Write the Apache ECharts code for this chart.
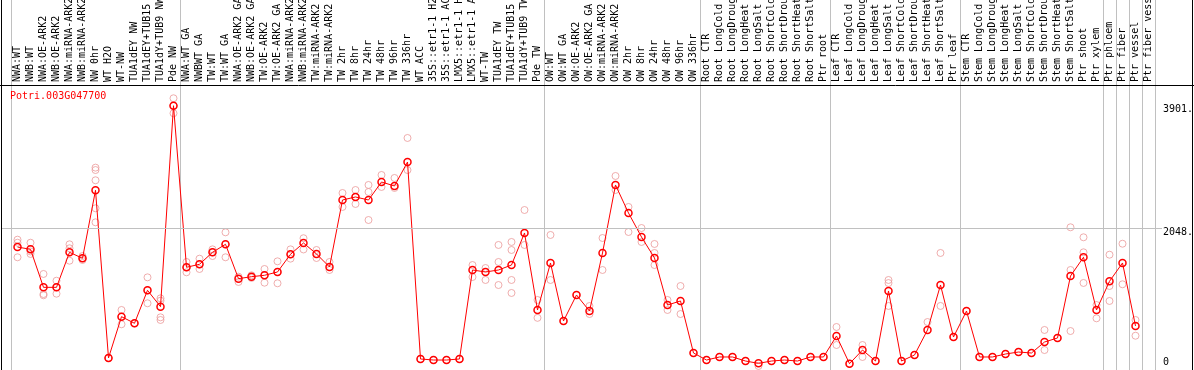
<!DOCTYPE html>
<html><head><meta charset="utf-8">
<script src="https://cdn.jsdelivr.net/npm/echarts@6/dist/echarts.min.js"></script>
<style>html,body{margin:0;padding:0;background:#fff}#c{width:1194px;height:370px}</style>
</head><body><div id="c"></div>
<script>
const geneName = 'Potri.003G047700';
const categories = [
 'NWA:WT','NWB:WT','NWA:OE-ARK2','NWB:OE-ARK2','NWA:miRNA-ARK2','NWB:miRNA-ARK2','NW 0hr','WT H2O','WT-NW','TUA1dEY NW',
 'TUA1dEY+TUB15 NW','TUA1dY+TUB9 NW','Pde NW','NWA:WT GA','NWBWT GA','TW:WT','TW:WT GA','NWA:OE-ARK2 GA','NWB:OE-ARK2 GA','TW:OE-ARK2',
 'TW:OE-ARK2 GA','NWA:miRNA-ARK2 GA','NWB:miRNA-ARK2 GA','TW:miRNA-ARK2','TW:miRNA-ARK2 GA','TW 2hr','TW 8hr','TW 24hr','TW 48hr','TW 96hr',
 'TW 336hr','WT ACC','35S::etr1-1 H2O','35S::etr1-1 ACC','LMX5::etr1-1 H2O','LMX5::etr1-1 ACC','WT-TW','TUA1dEY TW','TUA1dEY+TUB15 TW','TUA1dY+TUB9 TW',
 'Pde TW','OW:WT','OW:WT GA','OW:OE-ARK2','OW:OE-ARK2 GA','OW:miRNA-ARK2','OW:miRNA-ARK2 GA','OW 2hr','OW 8hr','OW 24hr',
 'OW 48hr','OW 96hr','OW 336hr','Root CTR','Root LongCold','Root LongDrought','Root LongHeat','Root LongSalt','Root ShortCold','Root ShortDrought',
 'Root ShortHeat','Root ShortSalt','Ptr root','Leaf CTR','Leaf LongCold','Leaf LongDrought','Leaf LongHeat','Leaf LongSalt','Leaf ShortCold','Leaf ShortDrought',
 'Leaf ShortHeat','Leaf ShortSalt','Ptr leaf','Stem CTR','Stem LongCold','Stem LongDrought','Stem LongHeat','Stem LongSalt','Stem ShortCold','Stem ShortDrought',
 'Stem ShortHeat','Stem ShortSalt','Ptr shoot','Ptr xylem','Ptr phloem','Ptr fiber','Ptr vessel','Ptr fiber vessel'
];
const means = [
 1767,1732,1158,1158,1687,1597,2624,91,715,615,
 1113,866,3901,1461,1506,1687,1808,1289,1319,1340,
 1390,1657,1828,1662,1465,2477,2523,2477,2749,2689,
 3051,76,60,60,76,1420,1390,1420,1495,1979,
 816,1526,650,1042,800,1677,2704,2281,1918,1601,
 891,952,166,60,106,106,45,10,45,60,
 45,106,106,423,5,211,45,1103,45,136,
 514,1193,408,800,106,106,151,181,166,332,
 393,1329,1612,816,1249,1526,574
];
const replicates = [
 [1878,1832,1612],[1832,1700,1662],[1360,1057,1038],[1258,1158,1062],[1808,1748,1560],[1631,1597,1571],[2966,2930,2775,2352,2140],[91,91],[816,715,600],[615,615],
 [1309,1113,917],[992,956,705,665],[4014,3901,3787],[1541,1461,1385],[1591,1506,1435],[1732,1687,1631],[1989,1808,1612],[1319,1239],[1340,1300],[1435,1340,1228],
 [1551,1390,1219],[1732,1657,1591],[1900,1730],[1722,1601],[1541,1420],[2583,2372],[2628,2523,2417],[2704,2598,2175],[2855,2674],[2810,2659],
 [3414,2930],[76],[60],[60],[76],[1495,1314],[1450,1269],[1798,1541,1193],[1843,1722,1269,1073],[2326,1798],
 [967,697],[1949,1269],[650],[1042],[876,755],[1903,1420],[2840,2628],[2372,1994],[2054,1843],[1813,1677,1495],
 [967,816],[1178,755],[166],[60],[106],[106],[45],[-30],[45],[60],
 [45],[106],[106],[559,287],[5],[287,106],[45],[1269,1223,877],[45],[136],
 [634],[1677,877],[408],[800],[106],[106],[151],[181],[166],[514,211],
 [393],[2065,1420,498],[1914,1687,1224],[891,690],[1651,1178,952],[1817,1204],[665,427]
];
const yTickValues = [0, 2048, 3901];
const groupStarts = [0, 13, 41, 53, 63, 73, 84, 85, 86, 87];
const refLineValue = 2048;

const repData = [];
replicates.forEach((arr, i) => arr.forEach(v => repData.push([i, v])));

const mono = 'DejaVu Sans Mono';
const chart = echarts.init(document.getElementById('c'), null, {renderer: 'canvas'});
chart.setOption({
  animation: false,
  backgroundColor: '#fff',
  title: {text: geneName, left: 10, top: 91, padding: 0,
    textStyle: {color: '#ff0000', fontFamily: mono, fontSize: 10, fontWeight: 'normal'}},
  grid: {left: 11, right: 39, top: 0, bottom: 0, containLabel: false, outerBoundsMode: 'none'},
  xAxis: {
    type: 'category', data: categories, position: 'top', offset: -85,
    axisLine: {show: false}, axisTick: {show: false},
    axisLabel: {rotate: 90, interval: 0, margin: 3, color: '#000', fontFamily: mono, fontSize: 10, hideOverlap: false},
    splitLine: {show: true, interval: (idx) => groupStarts.indexOf(idx) >= 0,
      lineStyle: {color: '#c0c0c0', width: 1}}
  },
  yAxis: {
    type: 'value', position: 'right', min: -90.6, max: 5498,
    axisLine: {show: false}, axisTick: {show: false}, splitLine: {show: false},
    axisLabel: {customValues: yTickValues, margin: 8, align: 'left', fontFamily: mono, fontSize: 10, color: '#000',
      formatter: v => v === 0 ? '{b|0}' : '{t|' + v + '.}',
      rich: {t: {padding: [8, 0, 0, 0], fontFamily: mono, fontSize: 10, color: '#000'},
             b: {padding: [0, 0, 4, 0], fontFamily: mono, fontSize: 10, color: '#000'}}}
  },
  graphic: [
    {type: 'line', shape: {x1: 1.5, y1: 0, x2: 1.5, y2: 370}, style: {stroke: '#000', lineWidth: 1}, z: 100},
    {type: 'line', shape: {x1: 1192.5, y1: 0, x2: 1192.5, y2: 370}, style: {stroke: '#000', lineWidth: 1}, z: 100},
    {type: 'line', shape: {x1: 0, y1: 85.5, x2: 1194, y2: 85.5}, style: {stroke: '#000', lineWidth: 1}, z: 100}
  ],
  series: [
    {type: 'scatter', data: repData, symbol: 'circle', symbolSize: 7, silent: true, z: 2,
      itemStyle: {color: 'rgba(0,0,0,0)', borderColor: '#eb9a9a', borderWidth: 1}},
    {type: 'line', data: means, symbol: 'circle', symbolSize: 7, silent: true, z: 3,
      lineStyle: {color: '#ff0000', width: 1},
      itemStyle: {color: 'rgba(0,0,0,0)', borderColor: '#ff0000', borderWidth: 1.5},
      markLine: {silent: true, symbol: 'none', label: {show: false},
        lineStyle: {color: '#c0c0c0', width: 1, type: 'solid'},
        data: [[{x: 2, yAxis: refLineValue}, {x: 1162, yAxis: refLineValue}]]}}
  ]
});
</script></body></html>
